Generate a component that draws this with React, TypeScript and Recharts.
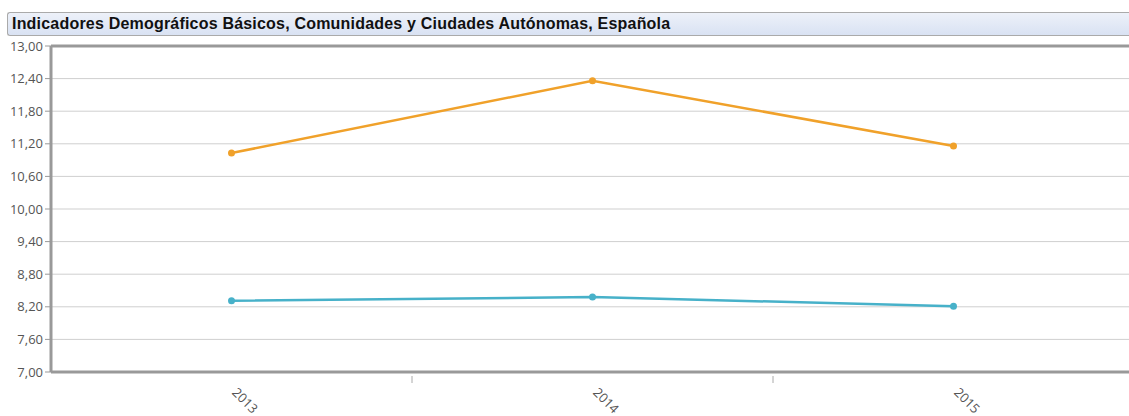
import { CartesianGrid, Line, LineChart, ReferenceLine, XAxis, YAxis } from 'recharts'

const years = ['2013', '2014', '2015']
const serieNaranja = [11.03, 12.36, 11.16]
const serieAzul = [8.31, 8.38, 8.21]
const yTicks = [7, 7.6, 8.2, 8.8, 9.4, 10, 10.6, 11.2, 11.8, 12.4, 13]

const titulo = 'Indicadores Demográficos Básicos, Comunidades y Ciudades Autónomas, Española'

const data = years.map((year, i) => ({ year, naranja: serieNaranja[i], azul: serieAzul[i] }))

const CHART_W = 1129
const PLOT_LEFT = 51
// the plot runs a little past the window on the right, so each year gets a 361px band
const BAND = 361
const PAD_RIGHT = CHART_W - PLOT_LEFT - BAND * 2.5

const fmt = (v: number) => v.toFixed(2).replace('.', ',')

function YearTick(props: any) {
  const { x, y, payload, index } = props
  const last = index === years.length - 1
  return (
    <g>
      {!last && <line x1={x + BAND / 2} x2={x + BAND / 2} y1={y - 4} y2={y + 3} stroke="#aaa" strokeWidth={1} />}
      <g transform={`translate(${x + 3},${y + 10})`}>
        <text transform="rotate(45)" textAnchor="start" dy="0.35em" fill="#555" fontSize={13} fontFamily="'Open Sans', sans-serif">
          {payload.value}
        </text>
      </g>
    </g>
  )
}

export default function App() {
  return (
    <div style={{ position: 'absolute', left: 0, top: 0, width: 1129, height: 416, background: '#fff' }}>
      <div
        style={{
          position: 'absolute',
          left: 7,
          top: 12,
          width: 1122,
          height: 24,
          border: '1px solid #aaa',
          borderRight: 'none',
          borderRadius: '3px 0 0 3px',
          background: 'linear-gradient(#edf1f9, #d9e2f3)',
          fontFamily: "'Liberation Sans', Arial, sans-serif",
          fontWeight: 'bold',
          fontSize: 16,
          letterSpacing: 0.2,
          lineHeight: '22px',
          paddingLeft: 4,
          color: '#111',
          boxSizing: 'border-box',
        }}
      >
        {titulo}
      </div>
      <div style={{ position: 'absolute', left: 0, top: 0 }}>
        <LineChart width={CHART_W} height={416} data={data} margin={{ top: 46, right: 0, left: 0, bottom: 0 }}>
          <CartesianGrid horizontal vertical={false} stroke="#cfcfcf" strokeWidth={1} />
          <XAxis
            dataKey="year"
            type="category"
            padding={{ left: BAND / 2, right: PAD_RIGHT }}
            height={44}
            axisLine={{ stroke: '#999', strokeWidth: 3 }}
            tickLine={false}
            tick={<YearTick />}
            interval={0}
          />
          <YAxis
            domain={[7, 13]}
            ticks={yTicks}
            width={PLOT_LEFT}
            tickFormatter={fmt}
            axisLine={{ stroke: '#999', strokeWidth: 3 }}
            tickLine={{ stroke: '#999', strokeWidth: 1 }}
            tickSize={6}
            tick={{ fill: '#555', fontSize: 13, fontFamily: "'Open Sans', sans-serif" }}
          />
          <ReferenceLine y={13} stroke="#999" strokeWidth={3} />
          <Line
            dataKey="naranja"
            stroke="#f0a12a"
            strokeWidth={2.5}
            dot={{ r: 3.5, fill: '#f0a12a', stroke: '#f0a12a', strokeWidth: 0 }}
            activeDot={false}
            isAnimationActive={false}
          />
          <Line
            dataKey="azul"
            stroke="#47b1c9"
            strokeWidth={2.5}
            dot={{ r: 3.5, fill: '#47b1c9', stroke: '#47b1c9', strokeWidth: 0 }}
            activeDot={false}
            isAnimationActive={false}
          />
        </LineChart>
      </div>
    </div>
  )
}
